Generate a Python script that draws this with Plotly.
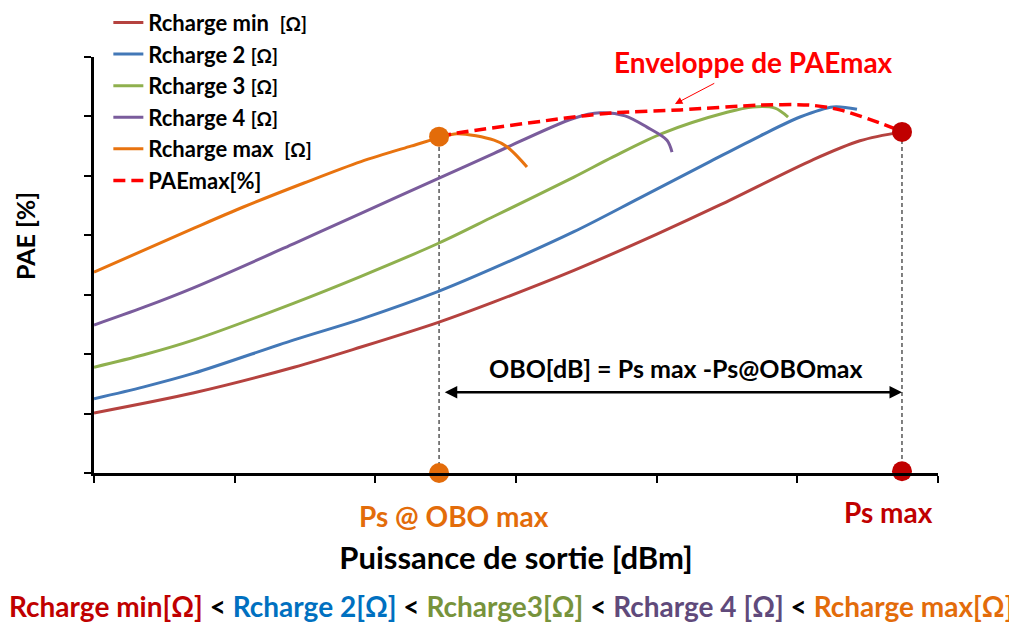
import plotly.graph_objects as go

# ---------------- data ----------------
rmin_x = [0, 7.11, 14.22, 18.98, 24.53, 28.44, 34.12, 40.02, 44.5, 51.1, 54.45, 57.44]
rmin_y = [10.1, 13.5, 17.8, 21.2, 25.4, 28.8, 34.1, 40.2, 45.1, 52.7, 55.9, 57.4]

r2_x = [0, 3.55, 7.11, 14.22, 18.98, 24.53, 28.44, 34.12, 38.81, 43.79, 47.34, 50.19, 52.53, 54.24]
r2_y = [12.5, 14.5, 16.8, 22.4, 25.9, 30.6, 34.5, 40.6, 46.3, 52.4, 56.7, 59.9, 61.6, 61.2]

r3_x = [0, 3.55, 7.11, 14.22, 18.98, 24.53, 28.44, 34.12, 36.9, 40.45, 45.0, 46.84, 48.41, 49.34]
r3_y = [17.8, 19.9, 22.4, 28.6, 33.1, 38.7, 43.2, 49.8, 53.2, 57.2, 60.7, 61.6, 61.4, 59.9]

r4_x = [0, 3.55, 7.11, 14.22, 18.98, 24.53, 28.44, 34.12, 35.97, 37.75, 39.31, 40.73, 41.09]
r4_y = [24.9, 27.9, 31.2, 38.6, 43.7, 49.6, 53.8, 59.7, 60.6, 60.1, 58.2, 56.0, 54.0]

rmax_x = [0, 7.11, 10.66, 14.93, 18.98, 22.53, 24.53, 25.81, 28.44, 29.36, 30.78]
rmax_y = [33.8, 41.2, 44.8, 48.8, 52.4, 55.0, 56.4, 57.1, 56.0, 54.9, 51.5]

env_x = [24.53, 25.81, 34.12, 36.9, 41.66, 47.34, 50.9, 53.03, 55.88, 57.44]
env_y = [56.6, 57.2, 59.9, 60.6, 61.1, 61.9, 61.9, 61.1, 58.9, 57.5]

ps_obo_max = 24.53
pae_obo_max = 56.6
ps_max = 57.44
pae_ps_max = 57.4
obo_arrow_y = 13.6

series_names = [
    "<b>Rcharge min  <span style='font-size:19px'>[Ω]</span></b>",
    "<b>Rcharge 2 <span style='font-size:19px'>[Ω]</span></b>",
    "<b>Rcharge 3 <span style='font-size:19px'>[Ω]</span></b>",
    "<b>Rcharge 4 <span style='font-size:19px'>[Ω]</span></b>",
    "<b>Rcharge max  <span style='font-size:19px'>[Ω]</span></b>",
    "<b>PAEmax[%]</b>",
]
series_colors = ["#B5423F", "#4378B7", "#8FB04E", "#7A5C9C", "#E8730F", "#FF0000"]

FONT = "Lato"

fig = go.Figure()
xs = [rmin_x, r2_x, r3_x, r4_x, rmax_x]
ys = [rmin_y, r2_y, r3_y, r4_y, rmax_y]
for i in range(5):
    fig.add_trace(go.Scatter(
        x=xs[i], y=ys[i], mode="lines", name=series_names[i],
        line=dict(color=series_colors[i], width=3, shape="spline", smoothing=0.9),
        legendgroup=f"g{i}", hoverinfo="skip"))
fig.add_trace(go.Scatter(
    x=env_x, y=env_y, mode="lines", name=series_names[5],
    line=dict(color=series_colors[5], width=3.5, dash="12px,6px", shape="spline", smoothing=0.8),
    legendgroup="g5", hoverinfo="skip"))

# marker dots
fig.add_trace(go.Scatter(
    x=[ps_obo_max, ps_obo_max], y=[pae_obo_max, 0], mode="markers",
    marker=dict(color="#E36C0A", size=20), showlegend=False, cliponaxis=False, hoverinfo="skip"))
fig.add_trace(go.Scatter(
    x=[ps_max, ps_max], y=[pae_ps_max, 0.3], mode="markers",
    marker=dict(color="#C00000", size=20), showlegend=False, cliponaxis=False, hoverinfo="skip"))

# vertical dashed guides
for xv, yv in [(ps_obo_max, pae_obo_max), (ps_max, pae_ps_max)]:
    fig.add_shape(type="line", x0=xv, x1=xv, y0=0, y1=yv, xref="x", yref="y",
                  line=dict(color="black", width=1, dash="4px,3px"), layer="below")

# OBO double arrow
fig.add_annotation(x=ps_max, y=obo_arrow_y, ax=ps_obo_max + 0.3, ay=obo_arrow_y,
                   xref="x", yref="y", axref="x", ayref="y", text="",
                   showarrow=True, arrowhead=2, startarrowhead=2, arrowside="end+start",
                   arrowwidth=2.5, arrowcolor="black", arrowsize=1, startarrowsize=1)


def label(px, py, text, size, color, angle=0):
    # px, py: position in the 1017x623 window; paper coords relative to plot area
    fig.add_annotation(x=(px - 94) / 844, y=(473 - py) / 416, xref="paper", yref="paper",
                       xanchor="center", yanchor="middle", text=text, showarrow=False,
                       textangle=angle, font=dict(family=FONT, size=size, color=color))


label(676, 368, "<b>OBO[dB] = Ps max -Ps@OBOmax</b>", 25, "black")

# envelope label and arrow
fig.add_annotation(x=41.3, y=62.1, ax=44.2, ay=65.7, xref="x", yref="y", axref="x", ayref="y",
                   text="", showarrow=True, arrowhead=2, arrowwidth=1, arrowcolor="#FF0000",
                   arrowsize=1.5)
label(753, 62, "<b>Enveloppe de PAEmax</b>", 28, "#FF0000")

# point labels
label(454, 516, "<b>Ps @ OBO max</b>", 28, "#E36C0A")
label(888, 512, "<b>Ps max</b>", 28, "#C00000")

# y-axis title (placed like the reference, above the axis centre)
label(25, 236, "<b>PAE [%]</b>", 25, "black", angle=-90)

# bottom ordering line
bottom_parts = [
    ("Rcharge min[Ω]", "#C00000"), (" < ", "black"),
    ("Rcharge 2[Ω]", "#0070C0"), (" < ", "black"),
    ("Rcharge3[Ω]", "#77933C"), (" < ", "black"),
    ("Rcharge 4 [Ω]", "#604A7B"), (" < ", "black"),
    ("Rcharge max[Ω]", "#E36C0A"),
]
bottom_text = "".join(f"<span style='color:{c}'>{t}</span>" for t, c in bottom_parts)
label(511, 606, f"<b>{bottom_text}</b>", 28, "black")

axis_common = dict(showline=True, linewidth=2.5, linecolor="black", ticks="outside",
                   ticklen=7, tickwidth=2, tickcolor="black", showgrid=False,
                   zeroline=False, showticklabels=False, mirror=False, automargin=False)

# the page body has an 8px default margin, so margins are shifted by 8px
fig.update_layout(
    width=1017, height=623,
    margin=dict(l=86, r=87, t=49, b=158, autoexpand=False),
    paper_bgcolor="white", plot_bgcolor="white",
    font=dict(family=FONT, color="black"),
    xaxis=dict(range=[0, 60], dtick=10, tick0=0,
               title=dict(text="<b>Puissance de sortie [dBm]</b>",
                          font=dict(family=FONT, size=31), standoff=66),
               **axis_common),
    yaxis=dict(range=[0, 70], dtick=10, tick0=0, **axis_common),
    legend=dict(x=0.017, y=1.133, xanchor="left", yanchor="top",
                font=dict(family=FONT, size=22, color="black"),
                tracegroupgap=0, bgcolor="rgba(0,0,0,0)", itemwidth=30),
    showlegend=True,
)

fig.write_html("out.html")
